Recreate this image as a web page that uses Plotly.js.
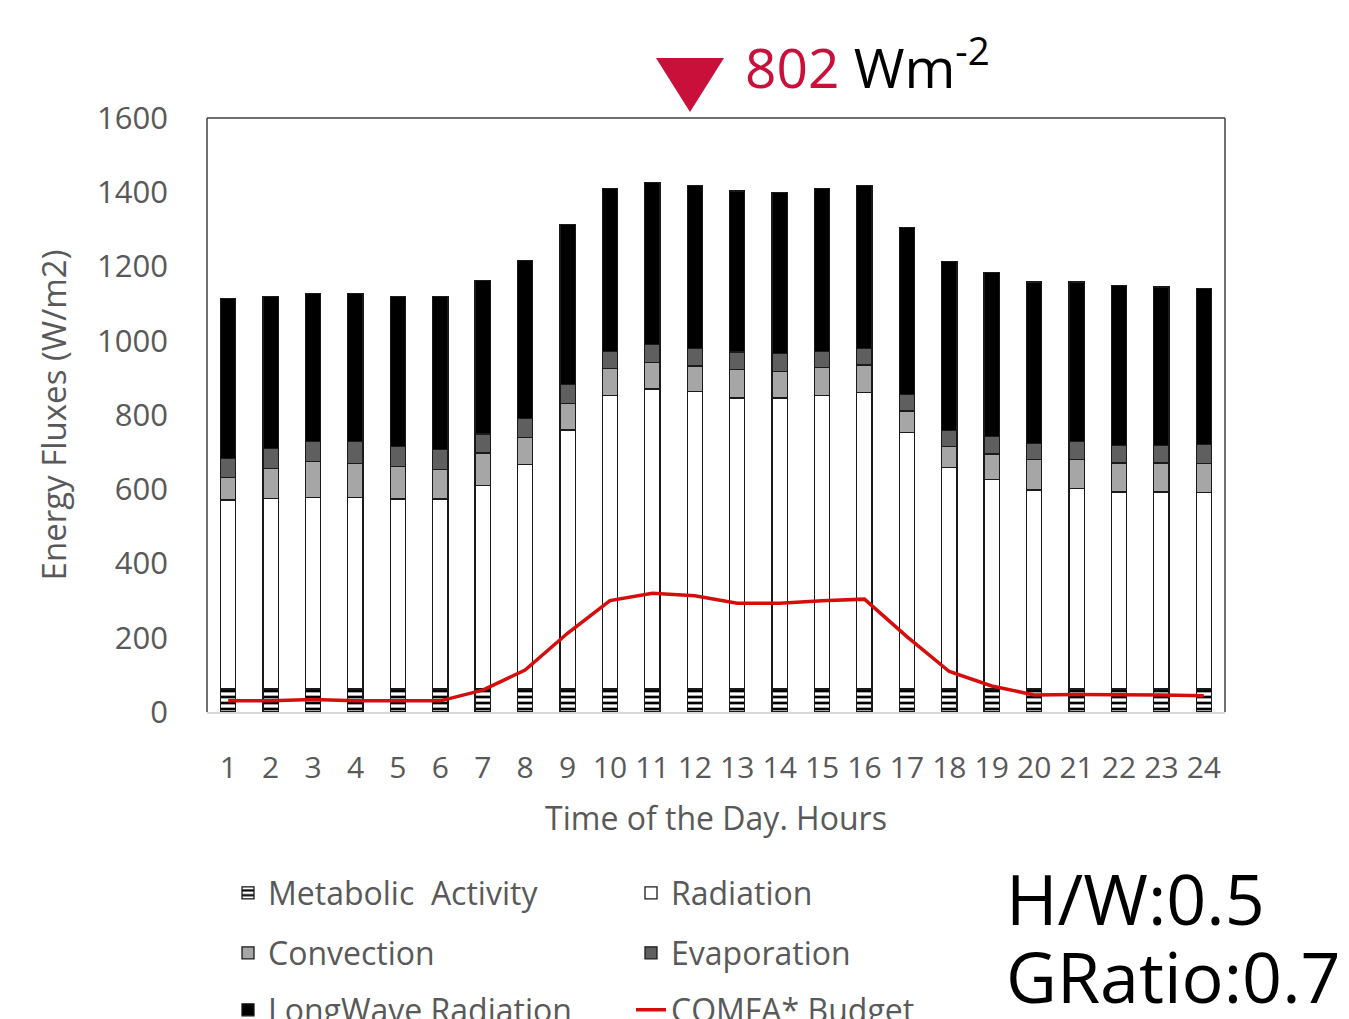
<!DOCTYPE html>
<html>
<head>
<meta charset="utf-8">
<script src="https://cdn.plot.ly/plotly-3.0.1.min.js"></script>
<style>html,body{margin:0;padding:0;background:#fff;}#chart{width:1349px;height:1019px;}</style>
</head>
<body>
<div id="chart"></div>
<script>
const hours = ["1","2","3","4","5","6","7","8","9","10","11","12","13","14","15","16","17","18","19","20","21","22","23","24"];
const metabolic = [62,62,62,62,62,62,62,62,62,62,62,62,62,62,62,62,62,62,62,62,62,62,62,62];
const radiation = [509,513,516,516,512,512,549,605,698,791,808,802,784,784,791,798,690,597,565,536,540,531,531,529];
const convection = [61,81,96,92,87,80,87,73,71,72,72,68,76,72,75,75,59,56,68,83,79,78,78,79];
const evaporation = [51,54,54,58,54,54,51,51,52,47,48,48,48,48,44,45,45,43,47,43,47,47,47,51];
const longwave = [431,410,400,400,405,412,413,426,431,439,437,438,433,434,439,438,450,456,441,434,430,430,427,420];
const budget = [30,30,34,30,30,30,59,113,212,300,320,313,293,293,300,304,203,109,70,46,47,47,46,44];
const yTicks = [0,200,400,600,800,1000,1200,1400,1600];

const outline = {color:'#1a1a1a', width:1.3};
const traces = [
  {type:'bar', name:'Metabolic  Activity', x:hours, y:metabolic, legend:'legend',
   marker:{color:'#ffffff', line:outline, pattern:{shape:'-', fgcolor:'#000000', bgcolor:'#ffffff', size:6, solidity:0.45, fillmode:'replace'}}},
  {type:'bar', name:'Radiation', x:hours, y:radiation, legend:'legend',
   marker:{color:'#ffffff', line:outline}},
  {type:'bar', name:'Convection', x:hours, y:convection, legend:'legend2',
   marker:{color:'#a6a6a6', line:outline}},
  {type:'bar', name:'Evaporation', x:hours, y:evaporation, legend:'legend2',
   marker:{color:'#5f5f5f', line:outline}},
  {type:'bar', name:'LongWave Radiation', x:hours, y:longwave, legend:'legend3',
   marker:{color:'#000000', line:outline}},
  {type:'scatter', mode:'lines', name:'COMFA* Budget', x:hours, y:budget, legend:'legend3',
   line:{color:'#d40d0d', width:3.5}}
];

const W = 1018, H = 594, L = 207, T = 118;
const px = v => (v - L) / W;
const py = v => (T + H - v) / H;
const cx = v => v / 1349;
const cy = v => (1019 - v) / 1019;

const legendCommon = {orientation:'h', entrywidth:358, entrywidthmode:'pixels', bgcolor:'rgba(0,0,0,0)', traceorder:'normal',
  xref:'container', yref:'container',
  font:{family:'Open Sans', size:32, color:'#595959'}, xanchor:'left', yanchor:'middle', itemclick:false, itemdoubleclick:false};

const layout = {
  width:1349, height:1019,
  margin:{l:207, r:124, t:118, b:307},
  paper_bgcolor:'#ffffff', plot_bgcolor:'#ffffff',
  font:{family:'Open Sans', color:'#595959'},
  barmode:'stack', bargap:0.64,
  xaxis:{type:'category', range:[-0.5,23.5], automargin:false, showgrid:false, zeroline:false, showline:true, linecolor:'#d9d9d9', linewidth:1.5,
    ticks:'', tickfont:{size:30, color:'#595959'}, ticklabelstandoff:28,
    title:{text:'Time of the Day. Hours', font:{size:32, color:'#595959'}, standoff:22}},
  yaxis:{range:[0,1600], automargin:false, tickvals:yTicks, showgrid:false, zeroline:false, showline:false,
    ticks:'', tickfont:{size:31, color:'#595959'}, ticklabelstandoff:38,
    title:{text:'Energy Fluxes (W/m2)', font:{size:33, color:'#595959'}, standoff:20}},
  showlegend:true,
  legend:Object.assign({}, legendCommon, {x:cx(228), y:cy(893)}),
  legend2:Object.assign({}, legendCommon, {x:cx(228), y:cy(953)}),
  legend3:Object.assign({}, legendCommon, {x:cx(228), y:cy(1010)}),
  shapes:[
    {type:'line', xref:'paper', yref:'paper', x0:0, x1:0, y0:0, y1:1, line:{color:'#404040', width:1.5}},
    {type:'line', xref:'paper', yref:'paper', x0:0, x1:1, y0:1, y1:1, line:{color:'#404040', width:1.5}},
    {type:'line', xref:'paper', yref:'paper', x0:1, x1:1, y0:0, y1:1, line:{color:'#404040', width:1.5}},
    {type:'path', xref:'paper', yref:'paper',
     path:`M ${px(656)} ${py(58)} L ${px(724)} ${py(58)} L ${px(690)} ${py(112)} Z`,
     fillcolor:'#c8103a', line:{width:0}}
  ],
  annotations:[
    {xref:'paper', yref:'paper', x:px(743), y:py(64), xanchor:'left', yanchor:'middle', showarrow:false,
     text:'<span style="color:#c8103a">802</span> Wm<sup>-2</sup>', font:{family:'Open Sans', size:55, color:'#000000'}},
    {xref:'paper', yref:'paper', x:px(1004), y:py(898), xanchor:'left', yanchor:'middle', showarrow:false, align:'left',
     text:'H/W:0.5', font:{family:'Open Sans', size:70, color:'#000000'}},
    {xref:'paper', yref:'paper', x:px(1004), y:py(976), xanchor:'left', yanchor:'middle', showarrow:false, align:'left',
     text:'GRatio:0.7', font:{family:'Open Sans', size:70, color:'#000000'}}
  ]
};

Plotly.newPlot('chart', traces, layout, {displayModeBar:false, staticPlot:true});
</script>
</body>
</html>
